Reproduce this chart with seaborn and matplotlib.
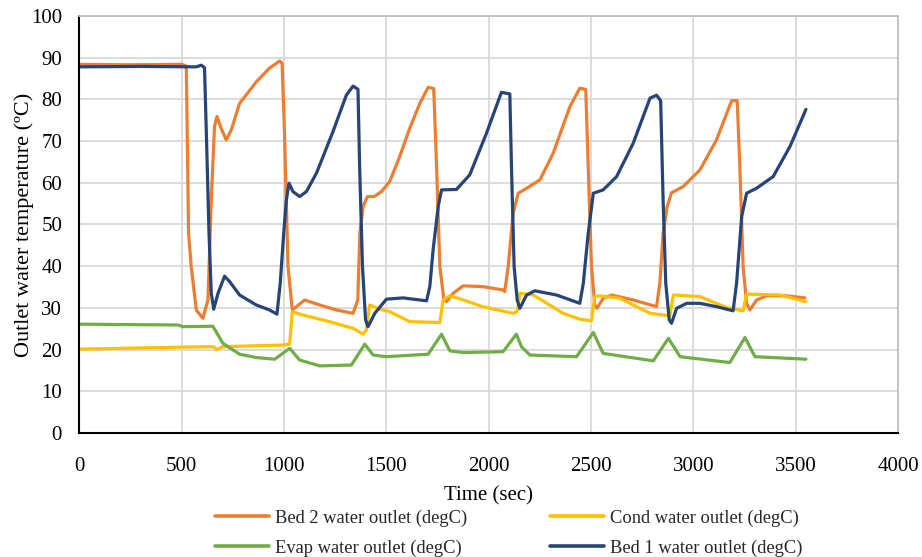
import numpy as np
import pandas as pd
import matplotlib
matplotlib.use("Agg")
import matplotlib.pyplot as plt
import seaborn as sns

# ---------------- data ----------------
bed2_t = [0, 250, 500, 522, 533, 546, 571, 603, 628, 644, 660, 672, 692, 717, 742, 782, 864, 929, 978, 990,
          1002, 1019, 1040, 1060, 1100, 1174, 1256, 1337, 1360, 1370, 1386, 1407, 1440, 1476, 1516, 1565, 1614,
          1663, 1704, 1731, 1745, 1761, 1780, 1794, 1826, 1875, 1972, 2070, 2078, 2095, 2119, 2144, 2186, 2250,
          2315, 2396, 2445, 2474, 2486, 2502, 2518, 2529, 2559, 2600, 2706, 2820, 2836, 2852, 2872, 2893, 2950,
          3032, 3113, 3187, 3214, 3227, 3243, 3260, 3276, 3309, 3358, 3456, 3545]
bed2_v = [88.4, 88.3, 88.4, 88.0, 48.0, 39.9, 29.5, 27.5, 31.9, 55.9, 73.5, 75.9, 73.1, 70.3, 72.7, 79.0, 84.2, 87.5, 89.2, 88.7,
          71.9, 39.9, 29.5, 30.3, 31.9, 30.7, 29.5, 28.7, 31.9, 47.9, 54.3, 56.7, 56.7, 57.9, 60.3, 66.3, 73.1,
          79.0, 82.9, 82.6, 63.9, 39.9, 32.3, 31.5, 33.5, 35.3, 35.1, 34.3, 33.9, 39.9, 52.7, 57.5, 58.7, 60.7,
          67.1, 78.2, 82.7, 82.4, 63.9, 39.9, 30.7, 29.9, 32.3, 33.1, 31.9, 30.3, 35.9, 47.9, 54.3, 57.6, 59.1,
          63.1, 70.3, 79.7, 79.7, 63.9, 39.9, 31.1, 29.5, 31.9, 32.9, 32.9, 32.4]

cond_t = [0, 500, 655, 670, 700, 994, 1027, 1040, 1092, 1222, 1337, 1386, 1402, 1418, 1467, 1516, 1614, 1761, 1777,
          1810, 1875, 1970, 2119, 2139, 2152, 2217, 2364, 2445, 2502, 2518, 2543, 2641, 2788, 2885, 2902, 3032,
          3162, 3243, 3260, 3423, 3550]
cond_v = [20.1, 20.6, 20.7, 20.0, 20.7, 21.1, 21.3, 29.1, 28.3, 26.7, 25.1, 23.7, 24.7, 30.7, 29.7, 29.1, 26.7, 26.5, 31.9,
          32.9, 31.9, 30.3, 28.7, 29.1, 33.5, 33.1, 28.7, 27.3, 26.9, 32.7, 32.9, 32.3, 28.7, 28.1, 33.1, 32.7,
          30.1, 29.3, 33.3, 33.1, 31.5]

evap_t = [0, 482, 505, 652, 677, 701, 782, 864, 954, 1027, 1076, 1174, 1329, 1394, 1435, 1500, 1704, 1769, 1810,
          1875, 2070, 2135, 2160, 2201, 2429, 2511, 2559, 2804, 2878, 2935, 3178, 3252, 3301, 3550]
evap_v = [26.1, 25.9, 25.5, 25.6, 23.5, 21.5, 18.9, 18.1, 17.7, 20.3, 17.5, 16.1, 16.3, 21.3, 18.7, 18.3, 18.9, 23.7, 19.7,
          19.3, 19.5, 23.7, 20.7, 18.7, 18.3, 24.1, 19.1, 17.3, 22.7, 18.3, 16.9, 22.9, 18.3, 17.7]

bed1_t = [0, 300, 571, 595, 611, 620, 633, 644, 656, 677, 709, 734, 782, 864, 929, 965, 981, 998, 1011, 1024, 1043,
          1076, 1109, 1158, 1239, 1304, 1337, 1361, 1369, 1383, 1398, 1410, 1443, 1500, 1582, 1696, 1712, 1728,
          1753, 1769, 1842, 1907, 1989, 2062, 2103, 2111, 2124, 2139, 2152, 2185, 2225, 2331, 2445, 2462, 2486,
          2511, 2559, 2625, 2706, 2788, 2820, 2840, 2852, 2865, 2882, 2893, 2918, 2967, 3032, 3113, 3194, 3211,
          3236, 3260, 3309, 3390, 3472, 3550]
bed1_v = [87.8, 87.9, 87.8, 88.2, 87.6, 71.9, 47.9, 33.5, 29.7, 33.5, 37.6, 36.3, 33.1, 30.7, 29.5, 28.5, 35.9, 47.9, 55.9, 59.9, 57.9,
          56.7, 57.9, 62.3, 72.3, 81.0, 83.2, 82.4, 63.9, 39.9, 27.1, 25.5, 28.7, 32.1, 32.4, 31.7, 35.1, 43.9,
          54.3, 58.3, 58.4, 61.9, 71.9, 81.7, 81.3, 63.9, 39.9, 31.9, 29.9, 33.1, 34.1, 33.1, 31.1, 35.9, 47.9,
          57.5, 58.3, 61.5, 69.5, 80.3, 81.0, 79.7, 55.9, 35.9, 27.1, 26.3, 29.9, 31.1, 31.1, 30.3, 29.3, 35.9,
          51.9, 57.5, 58.7, 61.5, 68.7, 77.6]

series_names = ["Bed 2 water outlet (degC)", "Cond water outlet (degC)",
                "Evap water outlet (degC)", "Bed 1 water outlet (degC)"]
series_colors = ["#ED7D31", "#FFC000", "#70AD47", "#264478"]
x_ticks = list(range(0, 4001, 500))
y_ticks = list(range(0, 101, 10))

frames = []
for name, t, v in zip(series_names, [bed2_t, cond_t, evap_t, bed1_t], [bed2_v, cond_v, evap_v, bed1_v]):
    frames.append(pd.DataFrame({"Time": t, "Temp": v, "Series": name}))
df = pd.concat(frames, ignore_index=True)

# ---------------- style ----------------
sns.set_theme(style="white")
plt.rcParams["font.family"] = ["Liberation Serif", "DejaVu Serif"]

fig = plt.figure(figsize=(9.22, 5.57), dpi=100)
ax = fig.add_axes([0.0862, 0.2226, 0.974 - 0.0862, 0.9713 - 0.2226])

sns.lineplot(data=df, x="Time", y="Temp", hue="Series", hue_order=series_names,
             palette=series_colors, estimator=None, sort=False, linewidth=2.3,
             ax=ax, legend=True)

ax.set_xlim(0, 4000)
ax.set_ylim(0, 100)
ax.set_xticks(x_ticks)
ax.set_yticks(y_ticks)
ax.grid(True, color="#d9d9d9", linewidth=1.3)
ax.set_axisbelow(True)
for s in ["top", "right"]:
    ax.spines[s].set_color("#bfbfbf")
    ax.spines[s].set_linewidth(1.3)
for s in ["left", "bottom"]:
    ax.spines[s].set_color("black")
    ax.spines[s].set_linewidth(1.5)
ax.tick_params(axis="both", direction="inout", length=9, width=1.4, color="black",
               labelsize=15, labelcolor="black")
ax.tick_params(axis="y", pad=8)
ax.tick_params(axis="x", pad=13)

ax.set_xlabel("Time (sec)", fontsize=15, color="black", labelpad=7)
ax.set_ylabel("Outlet water temperature (ºC)", fontsize=16, color="black", labelpad=-2)

handles, labels = ax.get_legend_handles_labels()
ax.get_legend().remove()
order = [0, 2, 1, 3]
fig.legend([handles[i] for i in order], [labels[i] for i in order],
           loc="center", bbox_to_anchor=(0.552, 0.043), ncol=2, frameon=False,
           fontsize=13.3, handlelength=2.9, handletextpad=0.35, columnspacing=4.5,
           labelspacing=0.67, borderpad=0.2)
for lh in fig.legends[0].get_lines():
    lh.set_linewidth(2.6)

fig.savefig("out.png", dpi=100)
